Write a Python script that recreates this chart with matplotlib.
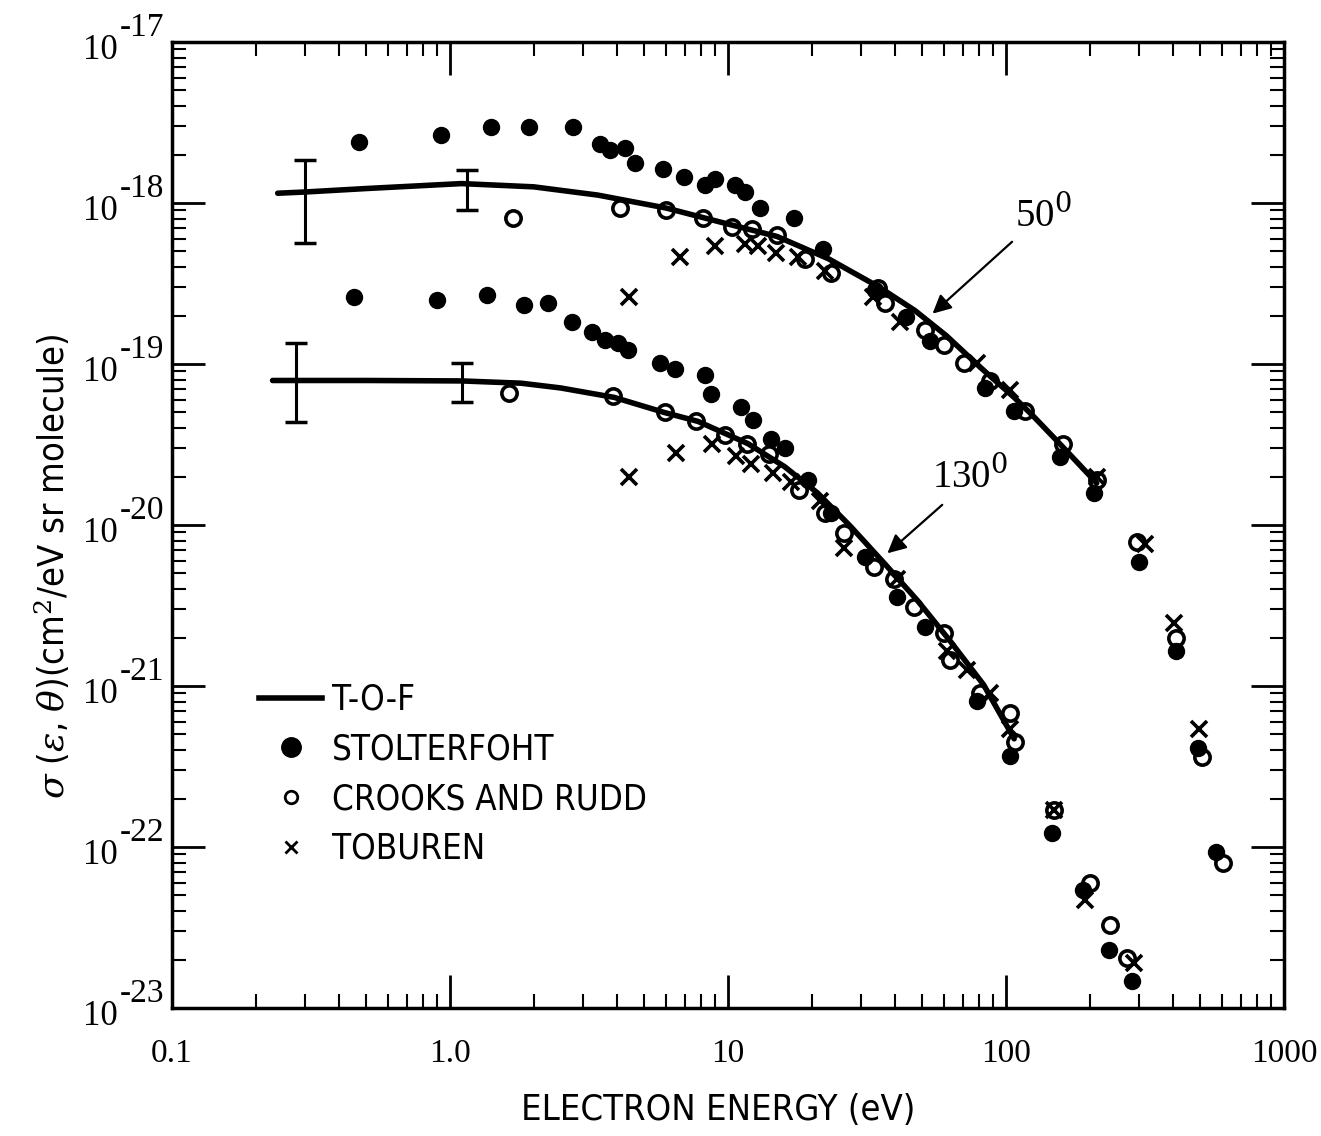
import matplotlib
matplotlib.use("Agg")
import matplotlib.pyplot as plt
from matplotlib.lines import Line2D
from matplotlib.ticker import LogLocator, NullFormatter

plt.rcParams["mathtext.fontset"] = "dejavuserif"

SANS = ["DejaVu Sans"]
SERIF = ["Liberation Serif", "DejaVu Serif"]

# --- T-O-F fitted curves (eV, cm^2/eV sr molecule) ---
tof50_e = [0.24, 0.3, 0.5, 1.1, 2.0, 3.4, 6.0, 10, 15, 23, 35, 47, 61, 81, 107, 126, 156, 212]
tof50_s = [1.15e-18, 1.17e-18, 1.23e-18, 1.32e-18, 1.26e-18, 1.12e-18, 9.3e-19, 7.4e-19,
           6.2e-19, 4.5e-19, 3.0e-19, 2.15e-19, 1.5e-19, 9.5e-20, 6.2e-20, 4.7e-20,
           3.2e-20, 1.82e-20]

tof130_e = [0.23, 0.28, 0.5, 1.1, 1.8, 2.5, 3.9, 5.9, 7.8, 11.8, 16, 21, 27.6, 36.6, 48,
            63, 83, 107]
tof130_s = [7.9e-20, 7.9e-20, 7.9e-20, 7.85e-20, 7.6e-20, 7.1e-20, 6.2e-20, 5.0e-20,
            4.4e-20, 3.2e-20, 2.3e-20, 1.58e-20, 9.8e-21, 5.75e-21, 3.4e-21, 1.9e-21,
            1.02e-21, 4.7e-22]

# error bars on the T-O-F curves: energy, centre, low, high
err50_e = [0.30, 1.15]
err50_c = [1.15e-18, 1.30e-18]
err50_lo = [5.65e-19, 9.06e-19]
err50_hi = [1.85e-18, 1.60e-18]

err130_e = [0.28, 1.10]
err130_c = [7.9e-20, 7.85e-20]
err130_lo = [4.37e-20, 5.8e-20]
err130_hi = [1.35e-19, 1.01e-19]

# --- Stolterfoht (filled circles) ---
stolt50_e = [0.47, 0.93, 1.40, 1.92, 2.78, 3.47, 3.77, 4.27, 4.64, 5.85, 6.95, 8.27, 8.98,
             10.6, 11.5, 13.0, 17.3, 21.9, 33.7, 43.5, 53.4, 84, 107, 156, 207,
             302, 410, 492, 570]
stolt50_s = [2.40e-18, 2.63e-18, 2.95e-18, 2.95e-18, 2.95e-18, 2.34e-18, 2.14e-18, 2.19e-18,
             1.78e-18, 1.62e-18, 1.45e-18, 1.29e-18, 1.41e-18, 1.29e-18, 1.17e-18, 9.3e-19,
             8.1e-19, 5.2e-19, 2.9e-19, 1.95e-19, 1.38e-19, 7.1e-20, 5.1e-20, 2.63e-20,
             1.58e-20, 5.9e-21, 1.66e-21, 4.1e-22, 9.3e-23]

stolt130_e = [0.453, 0.897, 1.36, 1.84, 2.26, 2.74, 3.23, 3.62, 4.03, 4.38, 5.71, 6.46, 8.27,
              8.7, 11.1, 12.3, 14.3, 16.1, 19.4, 23.4, 31.0, 40.6, 51.3, 78.7, 103,
              146, 190, 234, 283]
stolt130_s = [2.6e-19, 2.5e-19, 2.7e-19, 2.34e-19, 2.4e-19, 1.82e-19, 1.58e-19, 1.41e-19,
              1.35e-19, 1.23e-19, 1.02e-19, 9.3e-20, 8.5e-20, 6.5e-20, 5.4e-20, 4.5e-20,
              3.4e-20, 3.0e-20, 1.9e-20, 1.18e-20, 6.3e-21, 3.55e-21, 2.34e-21, 8.1e-22,
              3.7e-22, 1.23e-22, 5.4e-23, 2.3e-23, 1.48e-23]

# --- Crooks and Rudd (open circles) ---
crooks50_e = [1.69, 4.10, 6.0, 8.13, 10.3, 12.2, 15.0, 18.9, 23.4, 34.5, 36.6, 51.3, 60,
              70.7, 87.7, 117, 161, 212, 295, 410, 505, 604]
crooks50_s = [8.1e-19, 9.3e-19, 9.1e-19, 8.1e-19, 7.1e-19, 6.9e-19, 6.3e-19, 4.5e-19,
              3.7e-19, 2.95e-19, 2.4e-19, 1.62e-19, 1.32e-19, 1.02e-19, 7.8e-20, 5.1e-20,
              3.2e-20, 1.9e-20, 7.8e-21, 2.0e-21, 3.6e-22, 7.9e-23]

crooks130_e = [1.63, 3.87, 5.94, 7.68, 9.75, 11.7, 14.1, 18.0, 22.4, 26.2, 33.6, 39.7, 46.8,
               60.0, 63.0, 80.8, 103, 108, 149, 200, 236, 272]
crooks130_s = [6.6e-20, 6.3e-20, 5.0e-20, 4.4e-20, 3.6e-20, 3.2e-20, 2.75e-20, 1.66e-20,
               1.18e-20, 8.9e-21, 5.5e-21, 4.6e-21, 3.1e-21, 2.14e-21, 1.45e-21, 9.1e-22,
               6.8e-22, 4.5e-22, 1.7e-22, 6.0e-23, 3.3e-23, 2.04e-23]

# --- Toburen (crosses) ---
tob50_e = [4.39, 6.73, 8.98, 11.5, 12.8, 14.9, 17.8, 22.3, 33.1, 41.7, 78.7, 103, 212,
           315, 403, 496]
tob50_s = [2.6e-19, 4.6e-19, 5.4e-19, 5.6e-19, 5.4e-19, 4.9e-19, 4.6e-19, 3.8e-19,
           2.6e-19, 1.82e-19, 1.02e-19, 6.9e-20, 2.0e-20, 7.6e-21, 2.45e-21, 5.4e-22]

tob130_e = [4.39, 6.52, 8.77, 10.7, 12.1, 14.5, 16.8, 21.5, 26.2, 40.6, 61.5, 72.5, 87.7,
            103, 149, 192, 288]
tob130_s = [2.0e-20, 2.8e-20, 3.2e-20, 2.7e-20, 2.4e-20, 2.1e-20, 1.86e-20, 1.41e-20,
            7.2e-21, 4.6e-21, 1.66e-21, 1.26e-21, 9.1e-22, 5.4e-22, 1.7e-22, 4.7e-23, 1.9e-23]

xticks = [0.1, 1, 10, 100, 1000]
xtick_labels = ["0.1", "1.0", "10", "100", "1000"]
yticks = [1e-23, 1e-22, 1e-21, 1e-20, 1e-19, 1e-18, 1e-17]
ytick_exps = ["-23", "-22", "-21", "-20", "-19", "-18", "-17"]

W, H = 1321, 1136


def main():
    fig = plt.figure(figsize=(W / 100, H / 100), dpi=100)
    ax = fig.add_axes([172 / W, 1 - 1008 / H, (1284 - 172) / W, (1008 - 42) / H])
    ax.set_xscale("log")
    ax.set_yscale("log")
    ax.set_xlim(0.1, 1000)
    ax.set_ylim(1e-23, 1e-17)

    # curves
    for e, s in [(tof50_e, tof50_s), (tof130_e, tof130_s)]:
        ax.plot(e, s, color="k", lw=4, solid_capstyle="round",
                solid_joinstyle="round", zorder=2)

    for e, c, lo, hi in [(err50_e, err50_c, err50_lo, err50_hi),
                         (err130_e, err130_c, err130_lo, err130_hi)]:
        yerr = [[ci - li for ci, li in zip(c, lo)], [hi_ - ci for ci, hi_ in zip(c, hi)]]
        ax.errorbar(e, c, yerr=yerr, fmt="none", ecolor="k", elinewidth=2.2,
                    capsize=8, capthick=2.5, zorder=2)

    # data points
    for e, s in [(stolt50_e, stolt50_s), (stolt130_e, stolt130_s)]:
        ax.plot(e, s, ls="none", marker="o", color="k", ms=11.5, zorder=3)
    for e, s in [(crooks50_e, crooks50_s), (crooks130_e, crooks130_s)]:
        ax.plot(e, s, ls="none", marker="o", mfc="none", mec="k", mew=2.6, ms=11, zorder=4)
    for e, s in [(tob50_e, tob50_s), (tob130_e, tob130_s)]:
        ax.plot(e, s, ls="none", marker="x", color="k", mew=2.6, ms=11, zorder=4)

    # angle labels with arrows
    arrow = dict(arrowstyle="-|>", color="k", lw=1.6, mutation_scale=28)
    ax.annotate("", xy=(53.5, 2.0e-19), xytext=(107, 5.9e-19), arrowprops=arrow)
    ax.text(108, 8.4e-19, r"50$^{0}$", family=SERIF, size=28, ha="left", va="center")
    ax.annotate("", xy=(36.8, 6.5e-21), xytext=(60, 1.37e-20), arrowprops=arrow)
    ax.text(54, 2.0e-20, r"130$^{0}$", family=SERIF, size=28, ha="left", va="center")

    # axes styling
    for sp in ax.spines.values():
        sp.set_linewidth(2.5)
    ax.xaxis.set_minor_locator(LogLocator(base=10, subs=range(2, 10), numticks=20))
    ax.yaxis.set_minor_locator(LogLocator(base=10, subs=range(2, 10), numticks=20))
    ax.xaxis.set_minor_formatter(NullFormatter())
    ax.yaxis.set_minor_formatter(NullFormatter())
    ax.set_xticks(xticks)
    ax.set_xticklabels(xtick_labels, family=SERIF, size=24)
    ax.set_yticks(yticks)
    ax.set_yticklabels([])
    ax.tick_params(which="major", direction="in", length=24, width=2,
                   top=True, right=True)
    ax.tick_params(which="minor", direction="in", length=10, width=1.5,
                   top=True, right=True)
    ax.tick_params(axis="x", which="major", pad=22)

    # y tick labels: "10" with a raised exponent of nearly the same size
    x0 = ax.transAxes.transform((0, 0))[0]
    for v, ex in zip(yticks, ytick_exps):
        y = ax.transData.transform((1, v))[1]
        fig.text((x0 - 54) / W, (y - 8) / H, "10", family=SERIF, size=25,
                 ha="right", va="center")
        fig.text((x0 - 52) / W, (y + 14) / H, ex, family=SERIF, size=24,
                 ha="left", va="center")

    fig.text(718 / W, 1 - 1110 / H, "ELECTRON ENERGY (eV)", family=SANS,
             stretch="condensed", size=26, ha="center", va="center")
    fig.text(52 / W, 1 - 566 / H,
             r"$\sigma$ ($\epsilon$, $\theta$)(cm$^2$/eV sr molecule)",
             family=SANS, stretch="condensed", size=26, rotation=90,
             ha="center", va="center")

    handles = [Line2D([], [], color="k", lw=4),
               Line2D([], [], ls="none", marker="o", color="k", ms=14),
               Line2D([], [], ls="none", marker="o", mfc="none", mec="k", mew=2, ms=9),
               Line2D([], [], ls="none", marker="x", color="k", mew=2, ms=9)]
    labels = ["T-O-F", "STOLTERFOHT", "CROOKS AND RUDD", "TOBUREN"]
    ax.legend(handles, labels, loc="upper left", bbox_to_anchor=(0.066, 0.351),
              frameon=False,
              prop={"family": SANS, "stretch": "condensed", "size": 25},
              handlelength=1.8, handletextpad=0.3, labelspacing=0.45, borderaxespad=0)

    fig.savefig("out.png", dpi=100)
    plt.close(fig)


if __name__ == "__main__":
    main()
